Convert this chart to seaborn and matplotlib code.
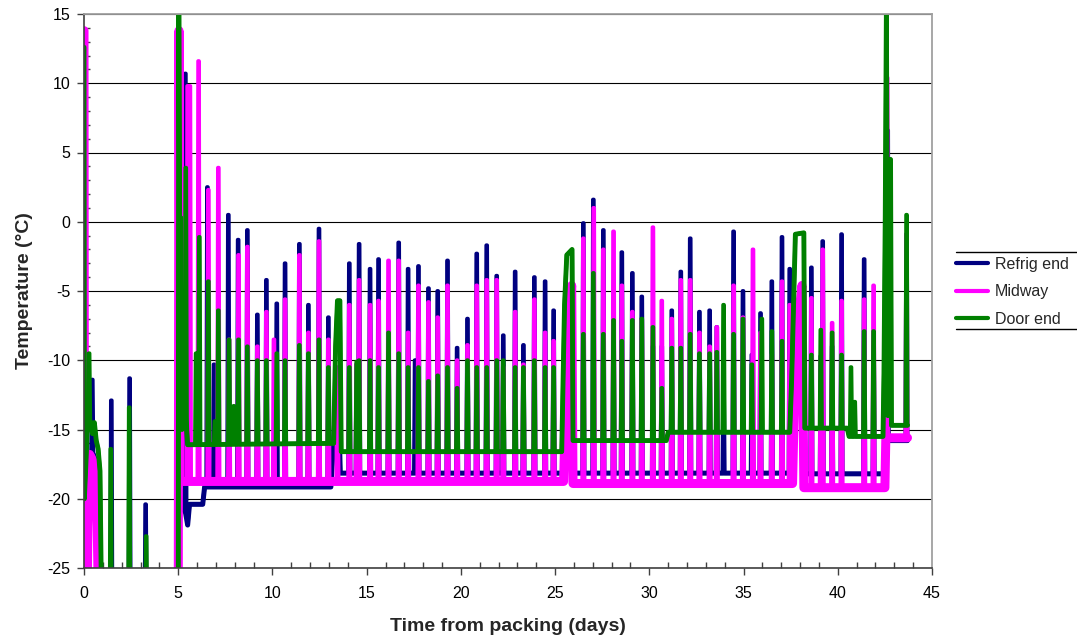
import numpy as np
import pandas as pd
import matplotlib
matplotlib.use("Agg")
import matplotlib.pyplot as plt
from matplotlib.lines import Line2D
from matplotlib.ticker import MultipleLocator
import seaborn as sns

sns.set_theme(style="ticks")
plt.rcParams["font.family"] = ["Liberation Sans", "DejaVu Sans"]
plt.rcParams["axes.unicode_minus"] = False

# ---------------------------------------------------------------------------
# Container temperature logs (days from packing, deg C)
# "track" = slow-moving air temperature, "spike" = defrost / door-opening peaks
# Values below -25 are off the bottom of the chart (logger out of range).
# ---------------------------------------------------------------------------

# Refrig end
refrig_track_day = [0.00, 0.15, 0.35, 0.50, 0.60, 0.72, 0.80, 0.90, 5.00, 5.06, 5.20, 5.30,
                    5.50, 5.60, 6.30, 6.40, 13.10, 13.30, 13.50, 13.60, 25.45, 25.60, 25.75,
                    25.88, 25.93, 37.55, 37.70, 38.00, 38.20, 38.25, 42.45, 42.55, 43.70]
refrig_track_temp = [-18.8, -17.6, -17.0, -16.8, -17.2, -17.8, -19.5, -30.0, -30.0, -20.0, -19.5, -20.3,
                     -21.9, -20.4, -20.4, -19.15, -19.15, -14.5, -12.8, -18.15, -18.15, -10.0, -7.5,
                     -5.0, -18.15, -18.15, -10.5, -7.0, -5.0, -18.2, -18.2, -15.8, -15.8]
refrig_spike_day = [0.44, 1.45, 2.42, 3.27, 5.38, 6.55, 6.90, 7.66, 8.18, 8.67, 9.20, 9.68, 10.23,
                    10.67, 11.43, 11.91, 12.47, 12.97, 14.08, 14.47, 14.60, 15.18, 15.63, 16.16,
                    16.70, 17.20, 17.57, 17.75, 18.28, 18.77, 19.29, 19.80, 20.35, 20.84, 21.37,
                    21.90, 22.25, 22.88, 23.32, 23.90, 24.47, 24.92, 26.50, 27.03, 27.56, 28.10,
                    28.54, 29.10, 29.60, 30.19, 30.66, 31.19, 31.67, 32.17, 32.66, 33.20, 33.58,
                    33.94, 34.47, 34.97, 35.44, 35.90, 36.50, 37.04, 37.45, 38.60, 39.10, 39.20,
                    39.70, 40.20, 41.40, 41.90, 42.65, 43.65]
refrig_spike_temp = [-11.4, -12.9, -11.3, -20.4, 10.7, 2.5, -10.3, 0.5, -1.3, -0.6, -6.7, -4.2, -5.9,
                     -3.0, -1.6, -6.0, -0.5, -6.9, -3.0, -10.3, -1.6, -3.4, -2.7, -9.0,
                     -1.5, -3.4, -10.0, -3.2, -4.8, -5.0, -2.8, -9.1, -7.0, -2.3, -1.7,
                     -3.9, -8.2, -3.6, -8.9, -4.0, -4.3, -6.4, -0.1, 1.6, -0.6, -7.0,
                     -2.2, -3.7, -5.4, -9.0, -9.0, -6.4, -3.6, -1.2, -6.5, -6.4, -7.6,
                     -12.0, -0.7, -5.0, -9.6, -6.6, -4.3, -1.1, -3.4, -3.3, -9.7, -1.4,
                     -9.0, -0.9, -2.7, -9.0, 6.6, -0.9]

# Midway
midway_track_day = [0.00, 0.03, 0.15, 0.22, 0.30, 0.45, 0.60, 0.70, 0.80, 5.00, 5.04, 5.10,
                    25.45, 25.60, 25.75, 25.88, 25.95, 37.60, 37.75, 37.95, 38.10, 38.20,
                    42.50, 42.55, 43.70]
midway_track_temp = [13.8, -30.0, -30.0, -20.0, -16.8, -17.2, -18.0, -22.0, -30.0, -30.0, 13.8, -18.75,
                     -18.75, -11.0, -7.0, -4.6, -18.9, -18.9, -10.0, -6.5, -4.6, -19.2,
                     -19.2, -15.6, -15.6]
midway_spike_day = [5.50, 5.62, 6.08, 6.60, 7.13, 7.70, 8.20, 8.67, 9.20, 9.68, 10.08, 10.67,
                    11.43, 11.91, 12.47, 12.97, 13.45, 14.08, 14.47, 14.60, 15.18, 15.63, 16.16,
                    16.70, 17.20, 17.75, 18.28, 18.77, 19.29, 19.80, 20.35, 20.84, 21.37, 21.90,
                    22.25, 22.88, 23.32, 23.90, 24.47, 24.92, 26.50, 27.05, 27.56, 28.10, 28.54,
                    29.10, 29.60, 30.19, 30.66, 31.19, 31.67, 32.17, 32.66, 33.20, 33.58, 34.47,
                    34.97, 35.50, 35.90, 36.50, 37.04, 37.45, 38.60, 39.10, 39.20, 39.70, 40.20,
                    41.40, 41.90, 42.62, 43.65]
midway_spike_temp = [9.8, 9.8, 11.6, 2.3, 3.9, -8.5, -2.4, -1.8, -9.0, -6.5, -8.5, -5.6,
                     -2.4, -8.0, -1.4, -8.5, -10.5, -6.0, -10.3, -4.2, -6.0, -5.7, -2.8,
                     -2.8, -8.0, -4.6, -5.8, -6.9, -4.6, -10.0, -8.9, -4.6, -4.2, -4.2,
                     -10.5, -6.5, -10.3, -5.6, -8.0, -8.6, -1.2, 1.0, -2.0, -0.7, -4.6,
                     -6.5, -7.1, -0.4, -5.7, -7.0, -4.2, -4.2, -8.0, -9.0, -7.6, -4.6,
                     -6.9, -2.0, -8.0, -9.6, -4.3, -6.0, -5.5, -9.8, -2.0, -7.3, -5.7,
                     -5.6, -4.6, 10.4, -0.9]

# Door end
door_track_day = [0.00, 0.02, 0.10, 0.20, 0.35, 0.45, 0.55, 0.65, 0.75, 0.85, 0.95, 5.00,
                  5.03, 5.08, 5.13, 5.20, 5.30, 5.50, 13.25, 13.35, 13.45, 13.58, 13.65,
                  25.35, 25.50, 25.62, 25.90, 25.95, 30.90, 31.00, 37.45, 37.55, 37.75,
                  38.20, 38.25, 40.50, 40.60, 42.40, 42.45, 42.52, 42.58, 42.66, 42.70,
                  42.80, 42.85, 43.70]
door_track_temp = [12.6, -20.0, -17.5, -14.0, -14.5, -15.3, -14.5, -15.8, -16.4, -18.0, -30.0, -30.0,
                   15.5, -1.0, 0.3, -15.0, -12.5, -16.1, -16.0, -9.0, -5.7, -5.7, -16.6,
                   -16.6, -6.0, -2.4, -2.0, -15.8, -15.8, -15.2, -15.2, -11.5, -0.9,
                   -0.8, -14.9, -14.9, -15.5, -15.5, -11.0, 0.5, 15.5, -14.0, 4.5,
                   4.5, -14.7, -14.7]
door_spike_day = [0.27, 1.42, 2.40, 3.30, 5.40, 5.95, 6.12, 6.60, 6.95, 7.13, 7.70, 7.95,
                  8.20, 8.67, 9.20, 9.68, 10.23, 10.67, 11.43, 11.91, 12.47, 12.97, 14.08,
                  14.47, 14.60, 15.18, 15.63, 16.16, 16.70, 17.20, 17.75, 18.28, 18.77,
                  19.29, 19.80, 20.35, 20.84, 21.37, 21.90, 22.25, 22.88, 23.32, 23.90,
                  24.47, 24.92, 26.50, 27.03, 27.56, 28.10, 28.54, 29.10, 29.60, 30.19,
                  30.66, 31.19, 31.67, 32.17, 32.66, 33.20, 33.58, 33.94, 34.47, 34.97,
                  35.44, 35.97, 36.50, 37.04, 38.60, 39.10, 39.70, 40.20, 40.70, 40.90,
                  41.40, 41.90, 43.65]
door_spike_temp = [-9.5, -16.4, -13.4, -22.7, 3.9, -9.5, -1.1, -4.3, -14.4, -6.4, -8.5, -13.3,
                   -8.5, -9.0, -10.0, -10.0, -9.5, -10.0, -8.9, -9.5, -8.5, -10.5, -10.5,
                   -10.1, -10.0, -10.0, -10.5, -8.0, -9.5, -10.5, -10.5, -11.5, -11.1,
                   -10.5, -12.0, -10.0, -10.5, -10.5, -10.0, -10.0, -10.5, -10.5, -10.0,
                   -10.5, -10.5, -8.1, -3.7, -8.1, -7.1, -8.6, -7.1, -7.0, -7.6,
                   -12.0, -9.1, -9.1, -8.1, -9.5, -9.5, -9.4, -6.0, -8.1, -7.0,
                   -10.3, -7.0, -7.9, -8.6, -9.6, -7.8, -8.0, -9.6, -10.5, -13.0,
                   -7.9, -7.9, 0.5]

SERIES = ["Refrig end", "Midway", "Door end"]
COLORS = ["#000080", "#FF00FF", "#008000"]

SPIKE_HALF = 0.06  # half-width of a peak, days


def build_trace(track_day, track_temp, spike_day, spike_temp):
    """Combine the slow trace with the peaks, each peak rising from the trace level."""
    days = list(track_day)
    temps = list(track_temp)
    for d, p in zip(spike_day, spike_temp):
        base = float(np.interp(d, track_day, track_temp))
        days += [d - SPIKE_HALF, d - SPIKE_HALF / 3, d + SPIKE_HALF / 3, d + SPIKE_HALF]
        temps += [base, p, p, base]
    order = np.argsort(days, kind="stable")
    return pd.DataFrame({"day": np.asarray(days)[order], "temp": np.asarray(temps)[order]})


tracks = [
    (refrig_track_day, refrig_track_temp, refrig_spike_day, refrig_spike_temp, 3.6),
    (midway_track_day, midway_track_temp, midway_spike_day, midway_spike_temp, 6.5),
    (door_track_day, door_track_temp, door_spike_day, door_spike_temp, 3.5),
]

W, H = 1077, 639
fig = plt.figure(figsize=(W / 100, H / 100), dpi=100)
ax = fig.add_axes([84 / W, 1 - 568 / H, (932 - 84) / W, (568 - 14) / H])

ax.set_axisbelow(True)
ax.yaxis.grid(True, color="black", lw=0.8)
ax.xaxis.grid(False)

for (tday, ttemp, sday, stemp, band_lw), color in zip(tracks, COLORS):
    trace = build_trace(tday, ttemp, sday, stemp)
    track_df = pd.DataFrame({"day": tday, "temp": ttemp})
    sns.lineplot(data=track_df, x="day", y="temp", ax=ax, color=color, lw=band_lw,
                 estimator=None, sort=False, legend=False)
    sns.lineplot(data=trace, x="day", y="temp", ax=ax, color=color, lw=2.8,
                 estimator=None, sort=False, legend=False)

ax.set_xlim(0, 45)
ax.set_ylim(-25, 15)
ax.set_xticks(range(0, 46, 5))
ax.set_yticks(range(-25, 16, 5))
ax.xaxis.set_minor_locator(MultipleLocator(1))
ax.yaxis.set_minor_locator(MultipleLocator(1))
ax.tick_params(which="major", direction="out", length=5, width=1, color="#404040",
               labelsize=11.5, labelcolor="black")
ax.tick_params(axis="x", which="major", pad=8)
ax.tick_params(axis="y", which="major", pad=5)
ax.tick_params(which="minor", direction="in", length=4, width=1, color="#404040")

for side in ("top", "right"):
    ax.spines[side].set_color("#A0A0A0")
    ax.spines[side].set_linewidth(1.3)
for side in ("left", "bottom"):
    ax.spines[side].set_color("#404040")
    ax.spines[side].set_linewidth(1.2)

ax.set_xlabel("Time from packing (days)", fontsize=14, fontweight="bold", labelpad=12)
ax.set_ylabel("Temperature (°C)", fontsize=14, fontweight="bold", labelpad=10)

handles = [Line2D([], [], color=c, lw=3) for c in COLORS]
fig.legend(handles, SERIES, loc="upper left", bbox_to_anchor=(956 / W, 1 - 257 / H),
           frameon=False, fontsize=11.5, handlelength=2.0, handletextpad=0.45,
           labelspacing=0.78, borderpad=0, borderaxespad=0)
for yy in (252, 329):
    fig.add_artist(Line2D([956 / W, 1.0], [1 - yy / H, 1 - yy / H], color="black",
                          lw=1, transform=fig.transFigure))

fig.savefig("out.png", dpi=100)
